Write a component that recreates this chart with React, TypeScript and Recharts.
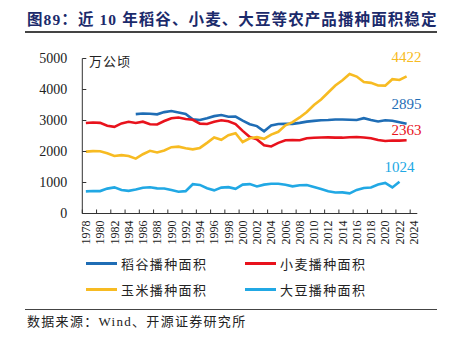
import React from "react";
import { LineChart, Line, XAxis, YAxis, LabelList } from "recharts";

// 1978-2024, 万公顷
const years = [
  "1978", "1979", "1980", "1981", "1982", "1983", "1984", "1985", "1986", "1987",
  "1988", "1989", "1990", "1991", "1992", "1993", "1994", "1995", "1996", "1997",
  "1998", "1999", "2000", "2001", "2002", "2003", "2004", "2005", "2006", "2007",
  "2008", "2009", "2010", "2011", "2012", "2013", "2014", "2015", "2016", "2017",
  "2018", "2019", "2020", "2021", "2022", "2023", "2024",
];

const rice = [
  null, null, null, null, null, null, null, 3207, 3227, 3219,
  3199, 3270, 3306, 3259, 3209, 3036, 3017, 3074, 3141, 3177,
  3121, 3128, 2996, 2881, 2820, 2651, 2838, 2885, 2894, 2892,
  2924, 2963, 2987, 3006, 3014, 3031, 3031, 3022, 3018, 3075,
  3019, 2969, 3008, 2992, 2945, 2895, null,
];

const wheat = [
  2918, 2936, 2923, 2831, 2796, 2905, 2958, 2922, 2962, 2880,
  2872, 2984, 3075, 3095, 3050, 3024, 2898, 2886, 2961, 3006,
  2977, 2886, 2665, 2466, 2391, 2200, 2163, 2279, 2361, 2372,
  2362, 2429, 2446, 2454, 2457, 2447, 2446, 2460, 2469, 2451,
  2427, 2373, 2338, 2357, 2352, 2363, null,
];

const corn = [
  1996, 2013, 2009, 1942, 1854, 1882, 1854, 1769, 1912, 2021,
  1969, 2035, 2140, 2157, 2104, 2069, 2115, 2278, 2450, 2378,
  2524, 2590, 2306, 2428, 2463, 2407, 2545, 2636, 2846, 2948,
  3098, 3276, 3498, 3677, 3903, 4130, 4296, 4497, 4418, 4240,
  4213, 4128, 4126, 4332, 4307, 4422, null,
];

const soybean = [
  714, 725, 723, 802, 842, 757, 729, 772, 830, 845,
  812, 806, 756, 704, 722, 945, 922, 813, 747, 835,
  850, 796, 931, 948, 872, 931, 959, 959, 930, 875,
  913, 919, 852, 789, 717, 679, 680, 651, 760, 825,
  841, 933, 988, 841, 1024, null, null,
];

const yTicks = [0, 1000, 2000, 3000, 4000, 5000];

const series = [
  { key: "rice", name: "稻谷播种面积", color: "#1f6db5", values: rice, labelDy: -20 },
  { key: "wheat", name: "小麦播种面积", color: "#e8121c", values: wheat, labelDy: -10 },
  { key: "corn", name: "玉米播种面积", color: "#f7bb22", values: corn, labelDy: -20 },
  { key: "soybean", name: "大豆播种面积", color: "#21a8e4", values: soybean, labelDy: -15 },
];

const data = years.map((year, i) => {
  const row: Record<string, any> = { year };
  series.forEach((s) => (row[s.key] = s.values[i]));
  return row;
});

const serif = "'Liberation Serif', 'Times New Roman', serif";
const cjk = "'Liberation Serif', 'Noto Sans CJK SC', serif";
const axisColor = "#333";

function YearTick(props: any) {
  const { x, y, payload } = props;
  const half = payload?.offset ?? 3.56;
  const ty = y + 7;
  return (
    <g>
      <line x1={x - half} x2={x - half} y1={y} y2={y - 4} stroke={axisColor} strokeWidth={1} />
      <text
        x={x}
        y={ty}
        dy="0.35em"
        textAnchor="end"
        transform={`rotate(-90 ${x} ${ty})`}
        fontSize={12}
        fontFamily={serif}
        fill="#222"
      >
        {payload.value}
      </text>
    </g>
  );
}

function AreaTick(props: any) {
  const { x, y, payload } = props;
  return (
    <g>
      <line x1={x} x2={x + 4} y1={y} y2={y} stroke={axisColor} strokeWidth={1} />
      <text x={x - 15} y={y} dy="0.35em" textAnchor="end" fontSize={14} fontFamily={serif} fill="#222">
        {payload.value}
      </text>
    </g>
  );
}

function endLabel(values: (number | null)[], color: string, dy: number) {
  let last = -1;
  values.forEach((v, i) => {
    if (v != null) last = i;
  });
  return (props: any) => {
    const { x, y, index, value } = props;
    if (index !== last) return null;
    return (
      <text x={x} y={y + dy} dy="0.35em" textAnchor="middle" fontSize={15} fontFamily={serif} fill={color}>
        {value}
      </text>
    );
  };
}

export default function App() {
  return (
    <div style={{ position: "fixed", left: 0, top: 0, width: 452, height: 344, background: "#fff" }}>
      <div
        style={{
          position: "absolute",
          left: 27,
          top: 10,
          fontSize: 15.5,
          fontWeight: "bold",
          letterSpacing: 1.1,
          color: "#1b2a6b",
          fontFamily: cjk,
          whiteSpace: "nowrap",
          lineHeight: "20px",
        }}
      >
        图89：近 10 年稻谷、小麦、大豆等农产品播种面积稳定
      </div>
      <div style={{ position: "absolute", left: 25, top: 31, width: 412, height: 1.5, background: "#444" }} />

      <LineChart
        width={452}
        height={344}
        data={data}
        margin={{ top: 58.5, right: 34.7, bottom: 90.5, left: 0 }}
        style={{ position: "absolute", left: 0, top: 0 }}
      >
        <XAxis
          dataKey="year"
          scale="band"
          interval={1}
          height={40}
          tickSize={0}
          tickMargin={0}
          tickLine={false}
          axisLine={{ stroke: axisColor, strokeWidth: 1 }}
          tick={<YearTick />}
        />
        <YAxis
          domain={[0, 5000]}
          ticks={yTicks}
          width={82.3}
          tickSize={0}
          tickMargin={0}
          tickLine={false}
          axisLine={{ stroke: axisColor, strokeWidth: 1 }}
          tick={<AreaTick />}
        />
        {series.map((s) => (
          <Line
            key={s.key}
            dataKey={s.key}
            name={s.name}
            stroke={s.color}
            strokeWidth={2.6}
            dot={false}
            activeDot={false}
            isAnimationActive={false}
          >
            <LabelList dataKey={s.key} content={endLabel(s.values, s.color, s.labelDy)} />
          </Line>
        ))}
      </LineChart>

      <div
        style={{
          position: "absolute",
          left: 89,
          top: 52,
          fontSize: 13,
          fontFamily: "'Noto Sans CJK SC', sans-serif",
          color: "#222",
          lineHeight: "17px",
          letterSpacing: 1,
        }}
      >
        万公顷
      </div>

      <div
        style={{
          position: "absolute",
          left: 86,
          top: 250,
          display: "grid",
          gridTemplateColumns: "159px 159px",
          gridAutoRows: "26px",
        }}
      >
        {series.map((s) => (
          <div key={s.key} style={{ display: "flex", alignItems: "center" }}>
            <span style={{ display: "inline-block", width: 31, height: 3, background: s.color, marginRight: 4 }} />
            <span
              style={{
                fontSize: 13,
                letterSpacing: 1.4,
                fontFamily: "'Noto Sans CJK SC', sans-serif",
                color: "#222",
              }}
            >
              {s.name}
            </span>
          </div>
        ))}
      </div>

      <div style={{ position: "absolute", left: 25, top: 309, width: 412, height: 1, background: "#444" }} />
      <div
        style={{
          position: "absolute",
          left: 27,
          top: 313,
          fontSize: 13,
          letterSpacing: 1.3,
          fontFamily: cjk,
          color: "#222",
          whiteSpace: "nowrap",
          lineHeight: "18px",
        }}
      >
        数据来源：Wind、开源证券研究所
      </div>
    </div>
  );
}
